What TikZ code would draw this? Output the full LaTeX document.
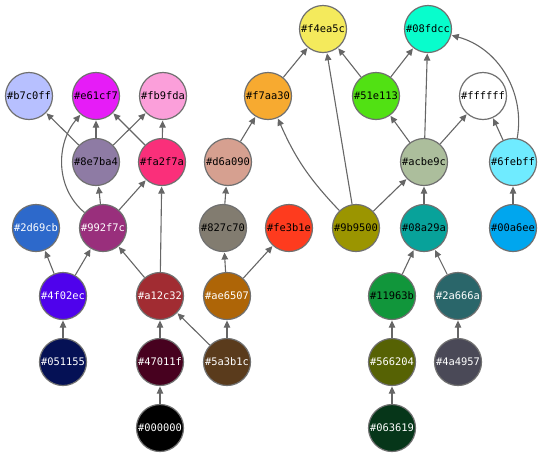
\documentclass[tikz,border=0pt]{standalone}
\usepackage{fontspec}
\setmonofont{DejaVu Sans Mono}
\usetikzlibrary{arrows.meta}
\definecolor{bordergray}{HTML}{707070}
\definecolor{edgegray}{HTML}{666666}
\definecolor{cf4ea5c}{HTML}{F4EA5C}
\definecolor{c08fdcc}{HTML}{08FDCC}
\definecolor{cb7c0ff}{HTML}{B7C0FF}
\definecolor{ce61cf7}{HTML}{E61CF7}
\definecolor{cfb9fda}{HTML}{FB9FDA}
\definecolor{cf7aa30}{HTML}{F7AA30}
\definecolor{c51e113}{HTML}{51E113}
\definecolor{cffffff}{HTML}{FFFFFF}
\definecolor{c8e7ba4}{HTML}{8E7BA4}
\definecolor{cfa2f7a}{HTML}{FA2F7A}
\definecolor{cd6a090}{HTML}{D6A090}
\definecolor{cacbe9c}{HTML}{ACBE9C}
\definecolor{c6febff}{HTML}{6FEBFF}
\definecolor{c2d69cb}{HTML}{2D69CB}
\definecolor{c992f7c}{HTML}{992F7C}
\definecolor{c827c70}{HTML}{827C70}
\definecolor{cfe3b1e}{HTML}{FE3B1E}
\definecolor{c9b9500}{HTML}{9B9500}
\definecolor{c08a29a}{HTML}{08A29A}
\definecolor{c00a6ee}{HTML}{00A6EE}
\definecolor{c4f02ec}{HTML}{4F02EC}
\definecolor{ca12c32}{HTML}{A12C32}
\definecolor{cae6507}{HTML}{AE6507}
\definecolor{c11963b}{HTML}{11963B}
\definecolor{c2a666a}{HTML}{2A666A}
\definecolor{c051155}{HTML}{051155}
\definecolor{c47011f}{HTML}{47011F}
\definecolor{c5a3b1c}{HTML}{5A3B1C}
\definecolor{c566204}{HTML}{566204}
\definecolor{c4a4957}{HTML}{4A4957}
\definecolor{c000000}{HTML}{000000}
\definecolor{c063619}{HTML}{063619}
\begin{document}
\begin{tikzpicture}[x=1pt,y=-1pt,
  hexnode/.style={circle, draw=bordergray, line width=1.2pt, minimum size=47pt, inner sep=0pt,
    font=\ttfamily\fontsize{10.4}{12}\selectfont},
  lt/.style={hexnode, text=black},
  dk/.style={hexnode, text=white},
  edge/.style={draw=edgegray, line width=1.1pt, -{Triangle[length=7pt,width=6.5pt]}, shorten >=0.5pt}]
\useasboundingbox (0,0) rectangle (543,459);
% row 0
\node[lt, fill=cf4ea5c] (nf4ea5c) at (323,29) {\#f4ea5c};
\node[lt, fill=c08fdcc] (n08fdcc) at (428,29) {\#08fdcc};
% row 1
\node[lt, fill=cb7c0ff] (nb7c0ff) at (29,96) {\#b7c0ff};
\node[lt, fill=ce61cf7] (ne61cf7) at (96,96) {\#e61cf7};
\node[lt, fill=cfb9fda] (nfb9fda) at (163,96) {\#fb9fda};
\node[lt, fill=cf7aa30] (nf7aa30) at (268,96) {\#f7aa30};
\node[lt, fill=c51e113] (n51e113) at (376,96) {\#51e113};
\node[lt, fill=cffffff] (nffffff) at (483,96) {\#ffffff};
% row 2
\node[lt, fill=c8e7ba4] (n8e7ba4) at (96,162) {\#8e7ba4};
\node[lt, fill=cfa2f7a] (nfa2f7a) at (162,162) {\#fa2f7a};
\node[lt, fill=cd6a090] (nd6a090) at (228,162) {\#d6a090};
\node[lt, fill=cacbe9c] (nacbe9c) at (424,162) {\#acbe9c};
\node[lt, fill=c6febff] (n6febff) at (513,162) {\#6febff};
% row 3
\node[dk, fill=c2d69cb] (n2d69cb) at (36,228) {\#2d69cb};
\node[dk, fill=c992f7c] (n992f7c) at (103,228) {\#992f7c};
\node[lt, fill=c827c70] (n827c70) at (223,228) {\#827c70};
\node[lt, fill=cfe3b1e] (nfe3b1e) at (289,228) {\#fe3b1e};
\node[lt, fill=c9b9500] (n9b9500) at (356,228) {\#9b9500};
\node[lt, fill=c08a29a] (n08a29a) at (424,228) {\#08a29a};
\node[lt, fill=c00a6ee] (n00a6ee) at (513,228) {\#00a6ee};
% row 4
\node[dk, fill=c4f02ec] (n4f02ec) at (63,296) {\#4f02ec};
\node[dk, fill=ca12c32] (na12c32) at (160,296) {\#a12c32};
\node[dk, fill=cae6507] (nae6507) at (227,296) {\#ae6507};
\node[lt, fill=c11963b] (n11963b) at (392,296) {\#11963b};
\node[dk, fill=c2a666a] (n2a666a) at (458,296) {\#2a666a};
% row 5
\node[dk, fill=c051155] (n051155) at (63,362) {\#051155};
\node[dk, fill=c47011f] (n47011f) at (160,362) {\#47011f};
\node[dk, fill=c5a3b1c] (n5a3b1c) at (227,362) {\#5a3b1c};
\node[dk, fill=c566204] (n566204) at (392,362) {\#566204};
\node[dk, fill=c4a4957] (n4a4957) at (458,362) {\#4a4957};
% row 6
\node[dk, fill=c000000] (n000000) at (160,428) {\#000000};
\node[dk, fill=c063619] (n063619) at (392,428) {\#063619};
% edges
\draw[edge] (n8e7ba4) -- (nb7c0ff);
\draw[edge] (n8e7ba4) -- (ne61cf7);
\draw[edge] (n8e7ba4) -- (nfb9fda);
\draw[edge] (nfa2f7a) -- (ne61cf7);
\draw[edge] (nfa2f7a) -- (nfb9fda);
\draw[edge] (n992f7c) to[out=140,in=-130] (ne61cf7);
\draw[edge] (n992f7c) -- (n8e7ba4);
\draw[edge] (n992f7c) -- (nfa2f7a);
\draw[edge] (na12c32) -- (nfa2f7a);
\draw[edge] (na12c32) -- (n992f7c);
\draw[edge] (n4f02ec) -- (n2d69cb);
\draw[edge] (n4f02ec) -- (n992f7c);
\draw[edge] (n051155) -- (n4f02ec);
\draw[edge] (n47011f) -- (na12c32);
\draw[edge] (n5a3b1c) -- (na12c32);
\draw[edge] (n5a3b1c) -- (nae6507);
\draw[edge] (n000000) -- (n47011f);
\draw[edge] (nae6507) -- (n827c70);
\draw[edge] (nae6507) -- (nfe3b1e);
\draw[edge] (n827c70) -- (nd6a090);
\draw[edge] (nd6a090) -- (nf7aa30);
\draw[edge] (nf7aa30) -- (nf4ea5c);
\draw[edge] (n9b9500) to[bend left=10] (nf7aa30);
\draw[edge] (n9b9500) -- (nf4ea5c);
\draw[edge] (n9b9500) -- (nacbe9c);
\draw[edge] (n51e113) -- (nf4ea5c);
\draw[edge] (n51e113) -- (n08fdcc);
\draw[edge] (nacbe9c) -- (n51e113);
\draw[edge] (nacbe9c) -- (n08fdcc);
\draw[edge] (nacbe9c) -- (nffffff);
\draw[edge] (n08a29a) -- (nacbe9c);
\draw[edge] (n6febff) -- (nffffff);
\draw[edge] (n6febff) to[out=80,in=-15] (n08fdcc);
\draw[edge] (n00a6ee) -- (n6febff);
\draw[edge] (n11963b) -- (n08a29a);
\draw[edge] (n2a666a) -- (n08a29a);
\draw[edge] (n566204) -- (n11963b);
\draw[edge] (n4a4957) -- (n2a666a);
\draw[edge] (n063619) -- (n566204);
\end{tikzpicture}
\end{document}
